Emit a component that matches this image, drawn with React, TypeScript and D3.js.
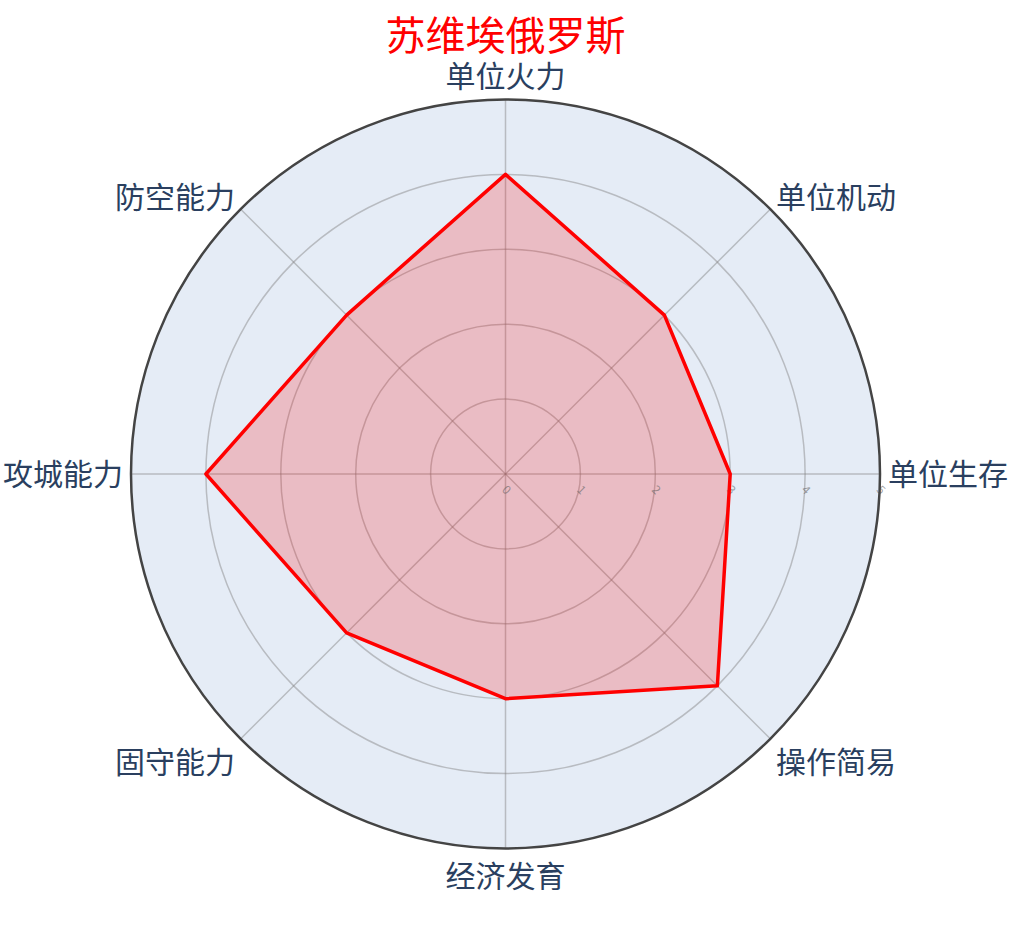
import React from "react";
import * as d3 from "d3";

const categories = ["单位火力", "单位机动", "单位生存", "操作简易", "经济发育", "固守能力", "攻城能力", "防空能力"];
const values = [4, 3, 3, 4, 3, 3, 4, 3];
const radialTicks = [0, 1, 2, 3, 4, 5];
const titleText = "苏维埃俄罗斯";

const W = 1010;
const H = 929;
const cx = 505.5;
const cy = 474;
const R = 374.5;
const FONT = "'Noto Sans CJK SC', 'Noto Sans', sans-serif";

export default function App() {
  const r = d3.scaleLinear().domain([0, 5]).range([0, R]);
  const ang = d3
    .scalePoint<string>()
    .domain(categories)
    .range([0, 2 * Math.PI * (1 - 1 / categories.length)]);

  const line = d3
    .lineRadial<number>()
    .angle((_, i) => ang(categories[i]) as number)
    .radius((d) => r(d))
    .curve(d3.curveLinearClosed);

  const path = line(values) || "";

  return (
    <svg width={W} height={H} style={{ position: "absolute", left: 0, top: 0, background: "#fff" }}>
      <rect width={W} height={H} fill="#fff" />
      <g transform={`translate(${cx},${cy})`}>
        <circle r={R} fill="#E5ECF6" />
        {radialTicks.slice(1, -1).map((t) => (
          <circle key={t} r={r(t)} fill="none" stroke="rgba(128,128,128,0.45)" strokeWidth={1.5} />
        ))}
        {categories.map((c) => {
          const a = ang(c) as number;
          return (
            <line
              key={c}
              x1={0}
              y1={0}
              x2={R * Math.sin(a)}
              y2={-R * Math.cos(a)}
              stroke="rgba(128,128,128,0.45)"
              strokeWidth={1.5}
            />
          );
        })}
        <path d={path} fill="rgba(255,0,0,0.2)" stroke="none" />
        {radialTicks.map((t) => (
          <text
            key={t}
            transform={`translate(${r(t) + 2},${15}) rotate(45)`}
            fontSize={12}
            fill="rgba(100,100,100,0.6)"
            fontFamily={FONT}
            textAnchor="middle"
            dominantBaseline="central"
          >
            {t}
          </text>
        ))}
        <path d={path} fill="none" stroke="#ff0000" strokeWidth={3.5} strokeLinejoin="round" />
        <circle r={R} fill="none" stroke="#444" strokeWidth={2.5} />
        {categories.map((c) => {
          const a = ang(c) as number;
          const s = Math.sin(a);
          const co = Math.cos(a);
          const xR = R * s;
          const yR = -R * co;
          const anchor = s > 0.1 ? "start" : s < -0.1 ? "end" : "middle";
          const dy = co > 0 ? 11 - 24 * co * co : 11 + 27 * Math.sqrt(-co);
          return (
            <text
              key={c}
              x={xR + 8 * s}
              y={yR + dy}
              textAnchor={anchor}
              fontSize={30}
              fill="#2a3f5f"
              fontFamily={FONT}
            >
              {c}
            </text>
          );
        })}
      </g>
      <text x={cx} y={50} textAnchor="middle" fontSize={40} fill="#ff0000" fontFamily={FONT}>
        {titleText}
      </text>
    </svg>
  );
}
